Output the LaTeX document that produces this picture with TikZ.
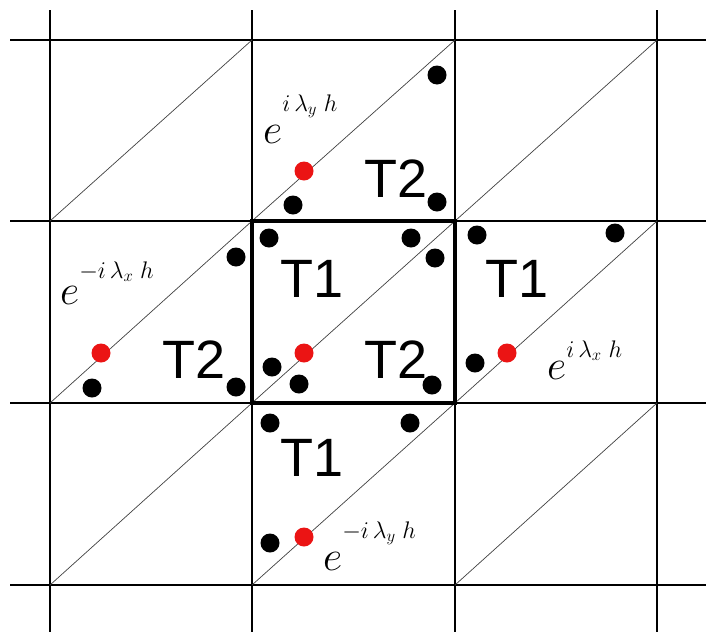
\documentclass[tikz,border=0pt]{standalone}
\usepackage{fix-cm}
\usepackage{fontspec}
\setsansfont{Liberation Sans}
\definecolor{dotred}{RGB}{235,20,20}
\usetikzlibrary{positioning}
% e with a raised, spaced exponent
\newcommand{\phasefac}[2]{$e$\raisebox{#1}{\fontsize{24}{24}\selectfont$#2$}}

\begin{document}
\begin{tikzpicture}[x=1pt, y=-1pt,
  gridline/.style={line width=1.4pt,black},
  diagline/.style={line width=0.7pt,black!75},
  blackdot/.style={circle,fill=black,inner sep=0pt,minimum size=19pt},
  reddot/.style={circle,fill=dotred,inner sep=0pt,minimum size=19pt},
  trilabel/.style={font=\sffamily\fontsize{54}{54}\selectfont,inner sep=0pt},
  phaselabel/.style={font=\fontsize{42}{42}\selectfont,anchor=base west,inner sep=0pt}]
  \useasboundingbox (0,0) rectangle (706,632);

  % Grid lines
  \draw[gridline] (50,10) -- (50,632);
  \draw[gridline] (252,10) -- (252,632);
  \draw[gridline] (455,10) -- (455,632);
  \draw[gridline] (657,10) -- (657,632);
  \draw[gridline] (10,40) -- (706,40);
  \draw[gridline] (10,221) -- (706,221);
  \draw[gridline] (10,403) -- (706,403);
  \draw[gridline] (10,585) -- (706,585);

  % Diagonals of the triangles
  \foreach \xa/\xb in {50/252,252/455,455/657}
    \foreach \ya/\yb in {40/221,221/403,403/585}
      \draw[diagline] (\xa,\yb) -- (\xb,\ya);

  % Reference cell
  \draw[line width=4pt] (252,221) rectangle (455,403);

  % Black nodes
  \node[blackdot] (b1) at (437,75) {};
  \node[blackdot] (b2) at (293,205) {};
  \node[blackdot] (b3) at (437,202) {};
  \node[blackdot] (b4) at (269,238) {};
  \node[blackdot] (b5) at (411,238) {};
  \node[blackdot] (b6) at (435,258) {};
  \node[blackdot] (b7) at (477,235) {};
  \node[blackdot] (b8) at (615,233) {};
  \node[blackdot] (b9) at (236,257) {};
  \node[blackdot] (b10) at (92,388) {};
  \node[blackdot] (b11) at (236,387) {};
  \node[blackdot] (b12) at (272,367) {};
  \node[blackdot] (b13) at (299,384) {};
  \node[blackdot] (b14) at (432,385) {};
  \node[blackdot] (b15) at (475,363) {};
  \node[blackdot] (b16) at (270,423) {};
  \node[blackdot] (b17) at (410,423) {};
  \node[blackdot] (b18) at (270,543) {};

  % Red nodes
  \node[reddot] (rtop) at (304,171) {};
  \node[reddot] (rleft) at (101,353) {};
  \node[reddot] (rmid) at (304,353) {};
  \node[reddot] (rright) at (507,353) {};
  \node[reddot] (rbot) at (304,537) {};

  % Triangle labels
  \node[trilabel] (t2top) at (396,179) {T2};
  \node[trilabel] (t1mid) at (312,279) {T1};
  \node[trilabel] (t1right) at (517,279) {T1};
  \node[trilabel] (t2left) at (194,360) {T2};
  \node[trilabel] (t2mid) at (396,360) {T2};
  \node[trilabel] (t1bot) at (312,458) {T1};

  % Phase factors
  \node[phaselabel] (py) at (263,143) {\phasefac{32pt}{i\,\lambda_y\;h}};
  \node[phaselabel] (pmx) at (60,304) {\phasefac{26pt}{-i\,\lambda_x\;h}};
  \node[phaselabel] (px) at (547,379) {\phasefac{22pt}{i\,\lambda_x\;h}};
  \node[phaselabel] (pmy) at (323,570) {\phasefac{32pt}{-i\,\lambda_y\;h}};
\end{tikzpicture}
\end{document}
